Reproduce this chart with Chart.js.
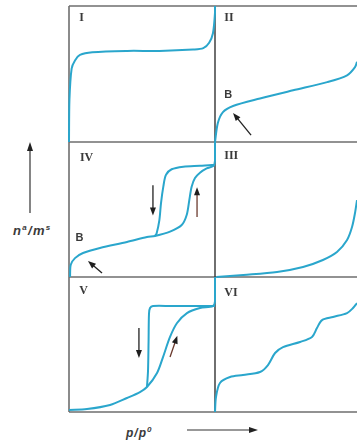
<!DOCTYPE html>
<html>
<head>
<meta charset="utf-8">
<script src="https://cdn.jsdelivr.net/npm/chart.js@4.4.0/dist/chart.umd.min.js"></script>
<style>
  body { margin: 0; background: #fff; width: 357px; height: 447px; overflow: hidden; position: relative; }
  #frame { position: absolute; left: 0; top: 0; }
  canvas { position: absolute; }
  .axlbl { position: absolute; font-family: "Liberation Sans", Arial, sans-serif; font-style: italic; font-weight: bold; color: #3a3a3a; line-height: 1; white-space: nowrap; }
  .axlbl sup { font-size: 8px; vertical-align: 5px; }
</style>
</head>
<body>
<svg id="frame" width="357" height="447">
  <g stroke="#6e6e6e" stroke-width="1.6" fill="none">
    <line x1="69" y1="6" x2="357" y2="6"/>
    <line x1="69" y1="142" x2="357" y2="142"/>
    <line x1="69" y1="277" x2="357" y2="277"/>
    <line x1="69" y1="412" x2="357" y2="412"/>
    <line x1="69" y1="6" x2="69" y2="412"/>
  </g>
  <line x1="215" y1="6" x2="215" y2="412" stroke="#333" stroke-width="1.4"/>
  <g stroke="#333" stroke-width="1.2">
    <line x1="30" y1="213" x2="30" y2="149"/>
    <line x1="187" y1="430" x2="250" y2="430"/>
  </g>
  <g fill="#222">
    <polygon points="30,142 27,151 33,151"/>
    <polygon points="258,430 249,427 249,433"/>
  </g>
</svg>
<div class="axlbl" style="left:13px;top:224px;font-size:13px;letter-spacing:1.3px;">n<sup>a</sup>/m<sup>s</sup></div>
<div class="axlbl" style="left:126px;top:426px;font-size:12px;letter-spacing:1px;">p/p<sup>0</sup></div>

<script>
// Type I
const typeI_x = [0, 0.003, 0.018, 0.041, 0.075, 0.16, 0.4, 0.62, 0.85, 0.92, 0.96, 0.986, 1.0, 1.0];
const typeI_y = [0, 0.31, 0.54, 0.60, 0.64, 0.66, 0.67, 0.67, 0.68, 0.69, 0.73, 0.80, 0.95, 1.0];

// Type II
const typeII_x = [0, 0.02, 0.056, 0.127, 0.317, 0.55, 0.79, 0.93, 0.986, 1.0];
const typeII_y = [0, 0.14, 0.22, 0.265, 0.32, 0.38, 0.44, 0.49, 0.55, 0.59];

// Type III
const typeIII_x = [0.01, 0.2, 0.437, 0.62, 0.76, 0.859, 0.93, 0.965, 0.986, 1.0];
const typeIII_y = [0, 0.015, 0.037, 0.074, 0.126, 0.185, 0.274, 0.37, 0.474, 0.57];

// Type IV (adsorption / desorption)
const typeIVads_x = [0.007, 0.012, 0.041, 0.096, 0.212, 0.397, 0.534, 0.589, 0.692, 0.772, 0.806, 0.824, 0.840, 0.863, 0.897, 0.943, 0.988, 1.0, 1.0];
const typeIVads_y = [0, 0.09, 0.14, 0.178, 0.215, 0.259, 0.296, 0.304, 0.336, 0.385, 0.459, 0.570, 0.669, 0.733, 0.773, 0.805, 0.822, 0.86, 1.0];
const typeIVdes_x = [0.589, 0.6, 0.619, 0.63, 0.646, 0.664, 0.703, 0.783, 0.897, 0.977, 1.0];
const typeIVdes_y = [0.304, 0.323, 0.422, 0.546, 0.669, 0.756, 0.798, 0.817, 0.824, 0.83, 0.83];

// Type V (adsorption / desorption)
const typeVads_x = [0, 0.123, 0.281, 0.397, 0.486, 0.534, 0.603, 0.644, 0.692, 0.74, 0.808, 0.897, 0.986, 1.0, 1.0];
const typeVads_y = [0.015, 0.022, 0.052, 0.104, 0.148, 0.185, 0.289, 0.407, 0.556, 0.659, 0.733, 0.77, 0.785, 0.82, 1.0];
const typeVdes_x = [0.534, 0.541, 0.545, 0.548, 0.555, 0.575, 0.7, 0.85, 1.0];
const typeVdes_y = [0.185, 0.3, 0.52, 0.73, 0.77, 0.785, 0.785, 0.785, 0.785];

// Type VI
const typeVI_x = [0, 0.007, 0.035, 0.106, 0.197, 0.317, 0.373, 0.423, 0.479, 0.599, 0.683, 0.718, 0.754, 0.831, 0.93, 0.972, 1.0];
const typeVI_y = [0, 0.111, 0.215, 0.259, 0.274, 0.296, 0.348, 0.437, 0.481, 0.519, 0.556, 0.622, 0.681, 0.704, 0.733, 0.77, 0.807];

const curveColor = "#2aa6cc";
const pad = 4;

function pts(xs, ys) {
    return xs.map((v, i) => ({ x: v, y: ys[i] }));
}

const panels = [
    { name: "I", left: 69, top: 6, w: 146, h: 136, curves: [[typeI_x, typeI_y]],
      texts: [{ t: "I", at: [0.07, 0.91], roman: true }] },
    { name: "II", left: 215, top: 6, w: 142, h: 136, curves: [[typeII_x, typeII_y]],
      texts: [{ t: "II", at: [0.065, 0.91], roman: true }, { t: "B", at: [0.065, 0.345] }],
      arrows: [{ from: [0.254, 0.051], to: [0.127, 0.213] }] },
    { name: "IV", left: 69, top: 142, w: 146, h: 135,
      curves: [[typeIVads_x, typeIVads_y], [typeIVdes_x, typeIVdes_y]],
      texts: [{ t: "IV", at: [0.075, 0.885], roman: true }, { t: "B", at: [0.045, 0.29] }],
      arrows: [{ from: [0.575, 0.68], to: [0.575, 0.455] },
               { from: [0.877, 0.444], to: [0.877, 0.665], color: "#6b3a2e" },
               { from: [0.226, 0.03], to: [0.13, 0.119] }] },
    { name: "III", left: 215, top: 142, w: 142, h: 135, curves: [[typeIII_x, typeIII_y]],
      texts: [{ t: "III", at: [0.065, 0.9], roman: true }] },
    { name: "V", left: 69, top: 277, w: 146, h: 135,
      curves: [[typeVads_x, typeVads_y], [typeVdes_x, typeVdes_y]],
      texts: [{ t: "V", at: [0.07, 0.9], roman: true }],
      arrows: [{ from: [0.479, 0.622], to: [0.479, 0.4] },
               { from: [0.692, 0.407], to: [0.742, 0.565], color: "#6b3a2e" }] },
    { name: "VI", left: 215, top: 277, w: 142, h: 135, curves: [[typeVI_x, typeVI_y]],
      texts: [{ t: "VI", at: [0.065, 0.885], roman: true }] }
];

const notesPlugin = {
    id: "notes",
    afterDatasetsDraw(chart, args, opts) {
        const ctx = chart.ctx;
        const sx = chart.scales.x, sy = chart.scales.y;
        ctx.save();
        (opts.arrows || []).forEach(a => {
            const x1 = sx.getPixelForValue(a.from[0]), y1 = sy.getPixelForValue(a.from[1]);
            const x2 = sx.getPixelForValue(a.to[0]), y2 = sy.getPixelForValue(a.to[1]);
            const ang = Math.atan2(y2 - y1, x2 - x1);
            const c = Math.cos(ang), s = Math.sin(ang);
            ctx.strokeStyle = a.color || "#222";
            ctx.lineWidth = 1.3;
            ctx.beginPath();
            ctx.moveTo(x1, y1);
            ctx.lineTo(x2 - 5 * c, y2 - 5 * s);
            ctx.stroke();
            ctx.fillStyle = "#1e1e1e";
            ctx.beginPath();
            ctx.moveTo(x2, y2);
            ctx.lineTo(x2 - 8 * c + 3 * s, y2 - 8 * s - 3 * c);
            ctx.lineTo(x2 - 8 * c - 3 * s, y2 - 8 * s + 3 * c);
            ctx.closePath();
            ctx.fill();
        });
        (opts.texts || []).forEach(t => {
            ctx.fillStyle = "#3a3a3a";
            ctx.font = t.roman ? "bold 12px 'Liberation Serif', serif" : "bold 11px 'Liberation Sans', Arial, sans-serif";
            ctx.textAlign = "left";
            ctx.textBaseline = "middle";
            ctx.fillText(t.t, sx.getPixelForValue(t.at[0]), sy.getPixelForValue(t.at[1]));
        });
        ctx.restore();
    }
};

panels.forEach(p => {
    const cv = document.createElement("canvas");
    cv.width = p.w + 2 * pad;
    cv.height = p.h + 2 * pad;
    cv.style.left = (p.left - pad) + "px";
    cv.style.top = (p.top - pad) + "px";
    document.body.appendChild(cv);

    new Chart(cv.getContext("2d"), {
        type: "scatter",
        data: {
            datasets: p.curves.map(c => ({
                data: pts(c[0], c[1]),
                showLine: true,
                borderColor: curveColor,
                borderWidth: 2,
                pointRadius: 0,
                tension: 0.3,
                clip: pad
            }))
        },
        options: {
            responsive: false,
            animation: false,
            layout: { padding: pad },
            plugins: {
                legend: { display: false },
                tooltip: { enabled: false },
                notes: { arrows: p.arrows || [], texts: p.texts || [] }
            },
            scales: {
                x: { type: "linear", min: 0, max: 1, display: false },
                y: { type: "linear", min: 0, max: 1, display: false }
            }
        },
        plugins: [notesPlugin]
    });
});
</script>
</body>
</html>
